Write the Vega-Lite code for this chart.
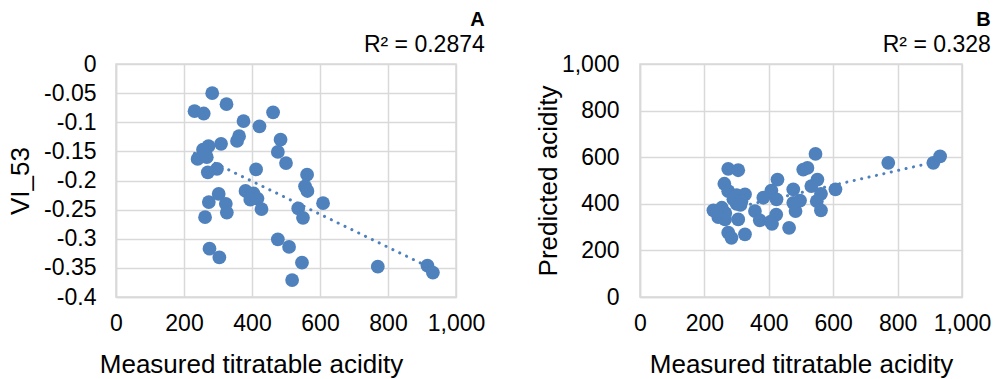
{
  "$schema": "https://vega.github.io/schema/vega-lite/v6.json",
  "background": "white",
  "padding": {"left": 6, "top": 9, "right": 0, "bottom": 0},
  "datasets": {
    "a": [
      {"measured": 283, "vi53": -0.050}, {"measured": 325, "vi53": -0.069}, {"measured": 231, "vi53": -0.081},
      {"measured": 258, "vi53": -0.085}, {"measured": 462, "vi53": -0.083}, {"measured": 375, "vi53": -0.098},
      {"measured": 422, "vi53": -0.107}, {"measured": 362, "vi53": -0.124}, {"measured": 356, "vi53": -0.132},
      {"measured": 484, "vi53": -0.130}, {"measured": 309, "vi53": -0.137}, {"measured": 272, "vi53": -0.141},
      {"measured": 256, "vi53": -0.147}, {"measured": 263, "vi53": -0.155}, {"measured": 476, "vi53": -0.151},
      {"measured": 240, "vi53": -0.163}, {"measured": 267, "vi53": -0.160}, {"measured": 500, "vi53": -0.170},
      {"measured": 412, "vi53": -0.181}, {"measured": 297, "vi53": -0.180}, {"measured": 270, "vi53": -0.186},
      {"measured": 562, "vi53": -0.190}, {"measured": 556, "vi53": -0.210}, {"measured": 563, "vi53": -0.218},
      {"measured": 302, "vi53": -0.223}, {"measured": 381, "vi53": -0.218}, {"measured": 404, "vi53": -0.222},
      {"measured": 395, "vi53": -0.233}, {"measured": 416, "vi53": -0.231}, {"measured": 428, "vi53": -0.249},
      {"measured": 273, "vi53": -0.237}, {"measured": 323, "vi53": -0.240}, {"measured": 326, "vi53": -0.255},
      {"measured": 609, "vi53": -0.239}, {"measured": 536, "vi53": -0.248}, {"measured": 550, "vi53": -0.264},
      {"measured": 262, "vi53": -0.263}, {"measured": 476, "vi53": -0.301}, {"measured": 509, "vi53": -0.314},
      {"measured": 275, "vi53": -0.317}, {"measured": 304, "vi53": -0.332}, {"measured": 547, "vi53": -0.341},
      {"measured": 518, "vi53": -0.371}, {"measured": 770, "vi53": -0.348}, {"measured": 916, "vi53": -0.346},
      {"measured": 932, "vi53": -0.358}
    ],
    "b": [
      {"measured": 274, "predicted": 550}, {"measured": 305, "predicted": 544}, {"measured": 262, "predicted": 486},
      {"measured": 274, "predicted": 454}, {"measured": 300, "predicted": 437}, {"measured": 326, "predicted": 440},
      {"measured": 315, "predicted": 411}, {"measured": 228, "predicted": 372}, {"measured": 254, "predicted": 383},
      {"measured": 243, "predicted": 343}, {"measured": 264, "predicted": 333}, {"measured": 305, "predicted": 333},
      {"measured": 274, "predicted": 276}, {"measured": 284, "predicted": 254}, {"measured": 326, "predicted": 269},
      {"measured": 357, "predicted": 369}, {"measured": 372, "predicted": 329}, {"measured": 406, "predicted": 323},
      {"measured": 383, "predicted": 426}, {"measured": 408, "predicted": 457}, {"measured": 424, "predicted": 419},
      {"measured": 427, "predicted": 504}, {"measured": 423, "predicted": 354}, {"measured": 410, "predicted": 314},
      {"measured": 476, "predicted": 462}, {"measured": 476, "predicted": 404}, {"measured": 483, "predicted": 369},
      {"measured": 497, "predicted": 414}, {"measured": 463, "predicted": 297}, {"measured": 507, "predicted": 547},
      {"measured": 520, "predicted": 554}, {"measured": 545, "predicted": 614}, {"measured": 532, "predicted": 476},
      {"measured": 551, "predicted": 504}, {"measured": 562, "predicted": 443}, {"measured": 549, "predicted": 411},
      {"measured": 562, "predicted": 372}, {"measured": 607, "predicted": 462}, {"measured": 771, "predicted": 576},
      {"measured": 911, "predicted": 576}, {"measured": 932, "predicted": 604}, {"measured": 290, "predicted": 420},
      {"measured": 300, "predicted": 400}, {"measured": 265, "predicted": 360}, {"measured": 240, "predicted": 362},
      {"measured": 312, "predicted": 395}
    ]
  },
  "config": {
    "locale": {"number": {"decimal": ".", "thousands": ",", "grouping": [3], "currency": ["$", ""], "minus": "-"}},
    "font": "Liberation Sans",
    "view": {"stroke": "#d9d9d9", "strokeWidth": 1.5},
    "axis": {
      "grid": true,
      "gridColor": "#d9d9d9",
      "gridWidth": 1.5,
      "domainColor": "#d9d9d9",
      "domainWidth": 1.5,
      "ticks": false,
      "labelOverlap": false,
      "labelFont": "Liberation Sans",
      "labelFontSize": 23,
      "labelColor": "#000000",
      "titleFont": "Liberation Sans",
      "titleFontSize": 26,
      "titleFontWeight": "normal",
      "titleColor": "#000000"
    },
    "title": {
      "font": "Liberation Sans",
      "fontSize": 20,
      "fontWeight": "bold",
      "color": "#000000",
      "anchor": "end",
      "subtitleFont": "Liberation Sans",
      "subtitleFontSize": 23,
      "subtitleColor": "#000000",
      "subtitlePadding": 4,
      "offset": -4
    }
  },
  "spacing": 48,
  "hconcat": [
    {
      "title": {"text": "A", "subtitle": "R² = 0.2874"},
      "width": 340,
      "height": 233,
      "data": {"name": "a"},
      "encoding": {
        "x": {"field": "measured", "type": "quantitative", "scale": {"domain": [0, 1000], "nice": false},
              "axis": {"values": [0, 200, 400, 600, 800, 1000], "format": ",.0f", "title": "Measured titratable acidity", "titlePadding": 16, "titleX": 135, "titleAlign": "center", "labelPadding": 15, "labelFlush": false}},
        "y": {"field": "vi53", "type": "quantitative", "scale": {"domain": [-0.4, 0], "nice": false, "zero": false},
              "axis": {"values": [0, -0.05, -0.1, -0.15, -0.2, -0.25, -0.3, -0.35, -0.4], "format": ".2~f", "title": "VI_53", "titlePadding": 10, "labelPadding": 20}}
      },
      "layer": [
        {
          "mark": {"type": "point", "filled": true, "size": 190, "opacity": 1, "color": "#4f81bd"}
        },
        {
          "transform": [{"regression": "vi53", "on": "measured"}],
          "mark": {"type": "line", "color": "#4f81bd", "strokeWidth": 3, "strokeDash": [0.1, 7.5], "strokeCap": "round"}
        }
      ]
    },
    {
      "title": {"text": "B", "subtitle": "R² = 0.328"},
      "width": 322,
      "height": 233,
      "data": {"name": "b"},
      "encoding": {
        "x": {"field": "measured", "type": "quantitative", "scale": {"domain": [0, 1000], "nice": false},
              "axis": {"values": [0, 200, 400, 600, 800, 1000], "format": ",.0f", "title": "Measured titratable acidity", "titlePadding": 16, "labelPadding": 15, "labelFlush": false}},
        "y": {"field": "predicted", "type": "quantitative", "scale": {"domain": [0, 1000], "nice": false},
              "axis": {"values": [0, 200, 400, 600, 800, 1000], "format": ",.0f", "title": "Predicted acidity", "titlePadding": 0, "labelPadding": 21}}
      },
      "layer": [
        {
          "mark": {"type": "point", "filled": true, "size": 190, "opacity": 1, "color": "#4f81bd"}
        },
        {
          "transform": [{"regression": "predicted", "on": "measured"}],
          "mark": {"type": "line", "color": "#4f81bd", "strokeWidth": 3, "strokeDash": [0.1, 7.5], "strokeCap": "round"}
        }
      ]
    }
  ]
}
